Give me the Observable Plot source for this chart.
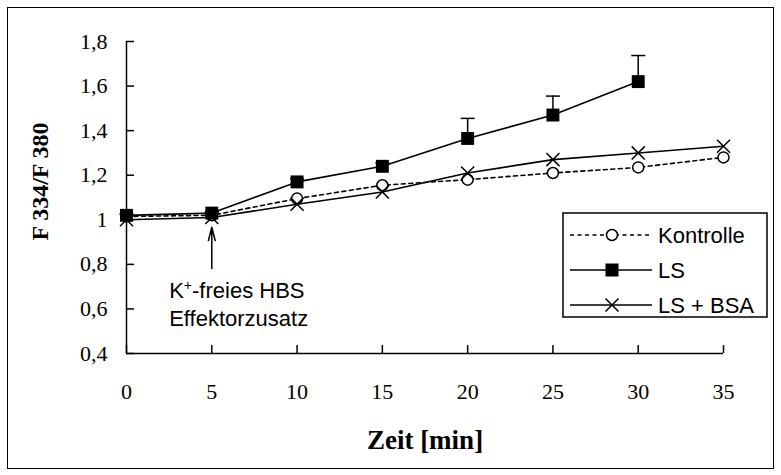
<!DOCTYPE html>
<html>
<head>
<meta charset="utf-8">
<script src="https://cdn.jsdelivr.net/npm/d3@7"></script>
<script src="https://cdn.jsdelivr.net/npm/@observablehq/plot@0.6"></script>
<style>
  html, body { margin: 0; padding: 0; background: #fff; }
  #wrap { position: relative; width: 781px; height: 475px; }
  #frame { position: absolute; left: 7px; top: 7px; width: 765px; height: 460px; border: 1.5px solid #000; pointer-events: none; }
</style>
</head>
<body>
<div id="wrap"><div id="frame"></div></div>
<script>
// ---- data ----
const times = [0, 5, 10, 15, 20, 25, 30, 35];
const kontrolle = [1.015, 1.02, 1.095, 1.155, 1.18, 1.21, 1.235, 1.28];
const lsTimes = [0, 5, 10, 15, 20, 25, 30];
const ls = [1.02, 1.03, 1.17, 1.24, 1.365, 1.47, 1.62];
const lsErrTop = [1.025, 1.035, 1.185, 1.255, 1.455, 1.555, 1.737];
const lsBsa = [1.0, 1.01, 1.07, 1.125, 1.21, 1.27, 1.30, 1.33];
const xTicks = [0, 5, 10, 15, 20, 25, 30, 35];
const yTicks = [0.4, 0.6, 0.8, 1.0, 1.2, 1.4, 1.6, 1.8];
const seriesNames = ["Kontrolle", "LS", "LS + BSA"];
const annotLines = ["K+-freies HBS", "Effektorzusatz"];
const annotX = [2.5, 2.5];
const annotY = [0.682, 0.556];
const arrowFrom = {x: 5, y: 0.781};
const arrowTo = {x: 5, y: 0.967};

// ---- layout ----
const W = 781, H = 475;
const mL = 126, mR = 58, mT = 41, mB = 122;
const serif = "Liberation Serif, Times New Roman, serif";
const sans = "Liberation Sans, Arial, sans-serif";

const kData = times.map((t, i) => ({t, v: kontrolle[i]}));
const lData = lsTimes.map((t, i) => ({t, v: ls[i], top: lsErrTop[i]}));
const bData = times.map((t, i) => ({t, v: lsBsa[i]}));

const capSymbol = { draw(ctx) { ctx.moveTo(-7, 0); ctx.lineTo(7, 0); } };
const fmt = d => d === 1 ? "1" : d.toFixed(1).replace(".", ",");

const plot = Plot.plot({
  width: W, height: H,
  marginLeft: mL, marginRight: mR, marginTop: mT, marginBottom: mB,
  style: { background: "transparent", color: "#000", fontFamily: serif },
  x: { domain: [0, 35] },
  y: { domain: [0.4, 1.8] },
  marks: [
    // axes
    Plot.axisX(xTicks, { tickSize: 0, tickPadding: 30, fontSize: 22, fontFamily: serif, label: null }),
    Plot.axisY(yTicks, { tickSize: 0, tickPadding: 19, fontSize: 22, fontFamily: serif, tickFormat: fmt, label: null }),
    Plot.tickY(yTicks, { y: d => d, insetRight: (W - mL - mR) - 8, stroke: "#000", strokeWidth: 1.5 }),
    Plot.tickX(xTicks, { x: d => d, insetTop: (H - mT - mB) - 8, stroke: "#000", strokeWidth: 1.5 }),
    Plot.ruleX([0], { stroke: "#000", strokeWidth: 1.5 }),
    Plot.ruleY([0.4], { stroke: "#000", strokeWidth: 1.5 }),
    // titles
    Plot.text(["Zeit [min]"], { frameAnchor: "bottom", dy: 87, fontSize: 27, fontWeight: "bold", fontFamily: serif, lineAnchor: "middle", textAnchor: "middle" }),
    Plot.text(["F 334/F 380"], { frameAnchor: "left", rotate: -90, dx: -86, dy: -16, fontSize: 24, fontWeight: "bold", fontFamily: serif, lineAnchor: "middle", textAnchor: "middle" }),
    // error bars
    Plot.ruleX(lData, { x: "t", y1: "v", y2: "top", stroke: "#000", strokeWidth: 1.5 }),
    Plot.dot(lData, { x: "t", y: "top", symbol: capSymbol, stroke: "#000", strokeWidth: 1.5, r: 5 }),
    // lines
    Plot.line(kData, { x: "t", y: "v", stroke: "#000", strokeWidth: 1.6, strokeDasharray: "4,3.5" }),
    Plot.line(bData, { x: "t", y: "v", stroke: "#000", strokeWidth: 1.6 }),
    Plot.line(lData, { x: "t", y: "v", stroke: "#000", strokeWidth: 1.6 }),
    // markers
    Plot.dot(kData, { x: "t", y: "v", r: 5.5, fill: "#fff", stroke: "#000", strokeWidth: 1.5 }),
    Plot.dot(bData, { x: "t", y: "v", symbol: "times", r: 6, stroke: "#000", strokeWidth: 1.5 }),
    Plot.dot(lData, { x: "t", y: "v", symbol: "square", r: 7.3, fill: "#000", stroke: "none" }),
    // annotation
    Plot.arrow([0], { x1: () => arrowFrom.x, y1: () => arrowFrom.y, x2: () => arrowTo.x, y2: () => arrowTo.y, stroke: "#000", strokeWidth: 1.5, headLength: 20, headAngle: 28 }),
    Plot.text(annotLines, { x: (d, i) => annotX[i], y: (d, i) => annotY[i], text: d => d, textAnchor: "start", fontSize: 22, fontFamily: sans, lineAnchor: "middle" })
  ]
});

document.getElementById("wrap").prepend(plot);

const svg = d3.select(plot);
// superscript in annotation
svg.selectAll("text").filter(function() { return this.textContent === annotLines[0]; })
  .html('K<tspan dy="-8" font-size="14">+</tspan><tspan dy="8">-freies HBS</tspan>');

// legend box
const lg = svg.append("g").attr("transform", "translate(563,213)");
lg.append("rect").attr("width", 204).attr("height", 104).attr("fill", "#fff").attr("stroke", "#000").attr("stroke-width", 1.5);
const rowY = [22, 57, 92];
seriesNames.forEach((name, i) => {
  const y = rowY[i];
  lg.append("line").attr("x1", 7).attr("x2", 89).attr("y1", y).attr("y2", y)
    .attr("stroke", "#000").attr("stroke-width", 1.6)
    .attr("stroke-dasharray", i === 0 ? "4,3.5" : null);
  if (i === 0) {
    lg.append("circle").attr("cx", 49).attr("cy", y).attr("r", 5.5).attr("fill", "#fff").attr("stroke", "#000").attr("stroke-width", 1.5);
  } else if (i === 1) {
    lg.append("path").attr("d", d3.symbol(d3.symbolSquare, 169)()).attr("transform", `translate(49,${y})`).attr("fill", "#000");
  } else {
    lg.append("path").attr("d", d3.symbol(d3.symbolTimes, 113)()).attr("transform", `translate(49,${y})`).attr("fill", "none").attr("stroke", "#000").attr("stroke-width", 1.5);
  }
  lg.append("text").attr("x", 95).attr("y", y + 8).attr("text-anchor", "start")
    .attr("font-family", sans).attr("font-size", 22).attr("fill", "#000").text(name);
});
</script>
</body>
</html>
